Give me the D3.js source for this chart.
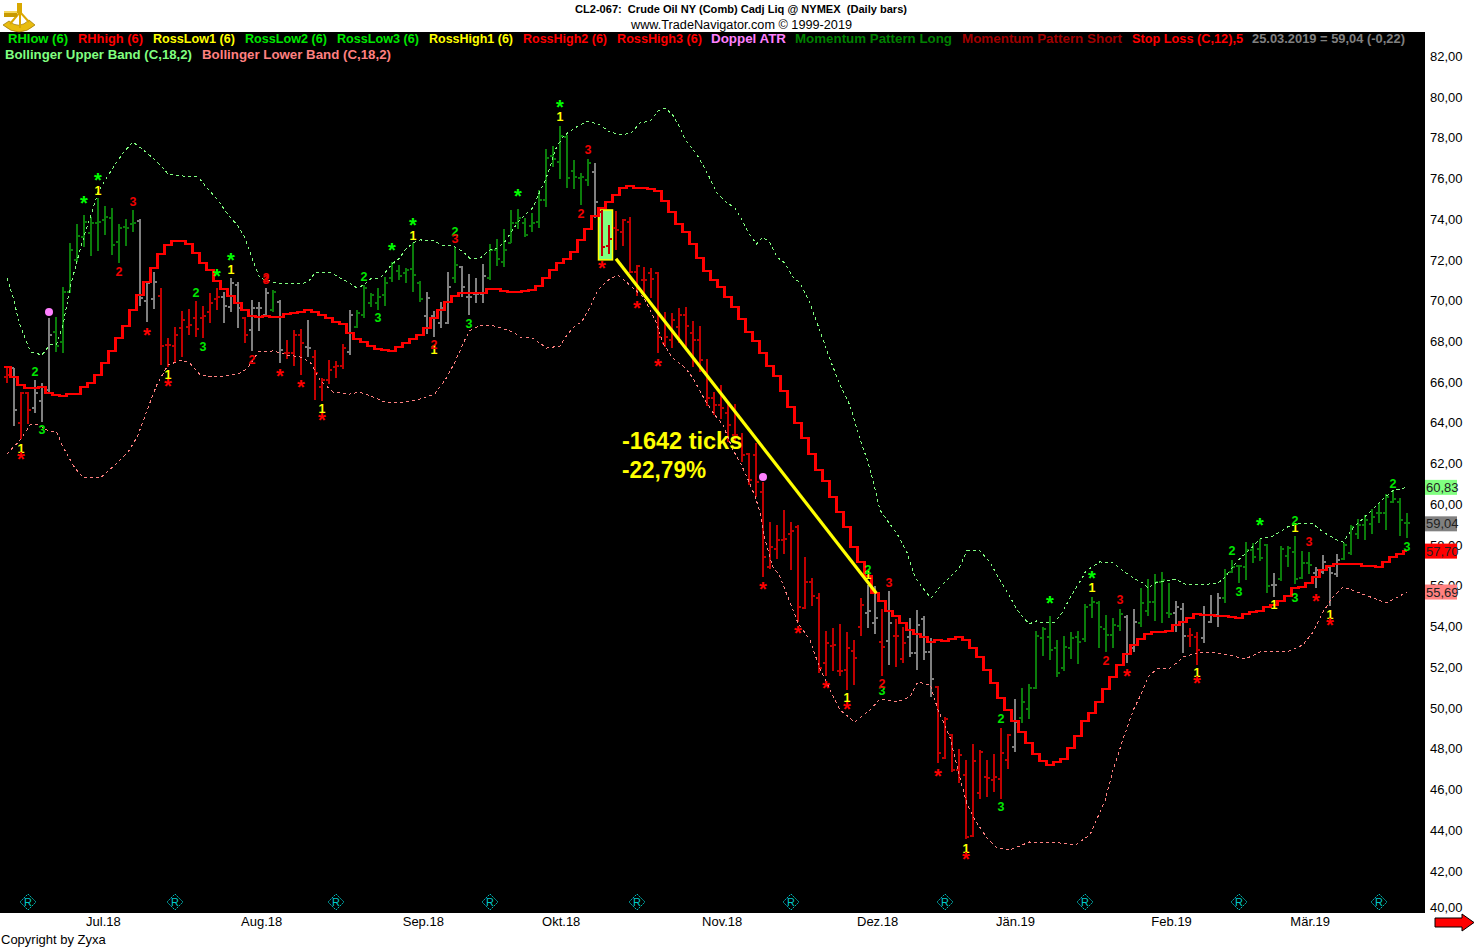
<!DOCTYPE html>
<html>
<head>
<meta charset="utf-8">
<script src="https://cdn.jsdelivr.net/npm/d3@7"></script>
<style>
html,body{margin:0;padding:0;background:#fff;overflow:hidden}
svg{display:block}
text{font-family:"Liberation Sans",Arial,sans-serif}
</style>
</head>
<body>
<svg id="chart" width="1483" height="947"></svg>
<script>
const highs=[66.74,66.69,65.51,65.51,66.10,65.95,69.15,69.20,70.67,72.83,73.76,74.20,74.11,75.04,74.65,74.55,73.76,74.01,74.45,74.01,70.91,71.40,70.62,68.16,68.70,69.49,69.59,69.98,69.74,70.37,70.62,70.42,71.11,70.91,69.20,70.03,69.93,70.62,70.52,70.03,68.07,68.56,68.61,69.05,67.58,66.20,67.08,67.03,67.87,69.54,69.54,70.77,70.37,70.62,71.16,71.90,71.75,71.60,72.83,70.96,70.42,69.49,69.93,71.40,72.63,71.70,71.31,71.11,71.80,72.78,73.02,73.52,74.45,74.50,74.06,74.30,75.43,77.44,77.59,78.57,78.13,76.90,76.27,76.95,76.76,74.45,73.71,74.40,74.01,74.11,71.75,71.65,71.60,71.40,69.44,69.39,69.64,69.69,69.00,68.75,67.13,65.51,65.86,64.97,64.92,63.50,62.52,63.01,61.09,59.13,58.98,59.72,59.13,58.98,57.41,56.38,55.64,53.78,53.93,54.12,53.73,53.34,55.40,56.04,55.99,54.86,55.74,54.37,53.97,54.42,54.81,54.51,53.43,51.08,49.56,48.72,47.98,47.44,48.23,47.93,47.44,47.74,49.02,48.72,50.44,50.98,51.18,53.78,53.97,54.51,53.34,53.53,53.73,53.78,55.10,55.45,55.25,54.56,54.42,54.86,54.56,54.86,55.89,56.33,56.58,56.67,56.13,55.25,55.15,53.93,53.73,55.01,55.55,55.64,56.82,57.26,57.02,58.15,58.10,58.30,58.05,56.63,57.95,57.95,58.44,57.71,57.66,56.92,57.51,57.02,57.56,58.10,58.98,59.28,59.47,59.77,60.06,60.50,60.65,60.31,59.57];
const lows=[65.96,63.84,63.20,63.94,64.48,64.04,65.51,67.48,67.43,70.37,71.90,72.63,72.19,72.44,73.22,72.24,71.85,72.68,73.37,69.74,68.95,69.59,66.84,66.74,66.94,67.23,68.31,68.21,68.16,68.90,69.54,68.90,69.44,68.66,67.92,67.53,68.51,69.29,69.44,66.94,67.13,66.79,66.35,67.23,65.12,65.07,65.91,66.20,66.64,67.33,68.66,69.15,69.69,69.54,69.74,70.91,71.01,70.86,70.42,69.93,68.36,68.21,68.66,68.85,70.86,70.18,69.29,69.88,69.88,71.01,71.70,71.65,72.83,73.52,73.12,73.37,73.57,74.60,76.56,75.97,75.53,75.48,74.70,75.63,74.06,72.19,72.29,72.49,72.68,71.36,70.23,70.37,70.13,67.43,67.72,67.67,67.92,67.72,66.74,66.50,64.83,64.38,64.19,63.06,63.01,62.08,60.95,60.36,56.43,56.82,57.31,57.56,56.77,54.22,54.86,55.01,51.72,51.57,51.81,51.57,50.88,51.13,53.53,53.93,53.63,51.57,52.11,52.01,52.21,52.50,51.86,52.35,50.54,47.30,47.49,46.85,46.32,43.56,43.66,45.53,45.63,45.87,45.53,47.00,47.84,49.26,49.46,50.93,52.55,52.35,51.52,51.81,52.40,52.16,53.24,54.42,52.94,52.75,52.94,53.78,52.21,52.75,53.97,54.51,54.27,54.17,54.42,53.73,52.70,52.99,52.11,53.19,54.17,53.97,55.15,56.63,56.13,56.28,57.12,57.22,55.64,55.45,56.23,56.92,56.09,56.33,56.58,55.89,56.58,55.01,56.43,57.26,57.51,58.30,58.25,58.54,59.08,58.74,60.06,58.44,58.35];
const opens=[66.25,66.69,63.99,65.46,64.73,65.07,65.61,68.46,67.97,70.42,71.99,73.12,73.32,73.81,73.96,74.06,72.88,73.61,73.76,73.91,69.98,70.08,70.23,67.82,67.77,68.66,68.70,69.15,69.15,69.44,70.08,70.18,69.69,70.77,69.15,68.56,69.64,69.29,69.54,69.93,67.43,67.43,68.31,67.72,67.23,65.76,66.10,66.74,66.79,67.48,68.70,69.29,69.88,69.88,70.27,71.11,71.45,71.35,71.55,70.86,69.24,69.25,68.90,68.90,71.11,71.65,70.18,70.32,70.32,71.11,72.49,71.90,72.83,73.81,73.81,73.66,73.86,74.94,77.10,76.81,78.03,76.36,76.02,75.92,76.31,74.35,72.68,73.57,73.37,73.86,71.40,71.01,71.35,71.35,67.92,68.07,68.70,69.29,68.41,68.07,66.50,65.22,64.87,64.48,63.40,63.25,62.47,62.42,60.60,56.92,57.80,58.25,58.54,58.88,54.91,56.18,55.40,52.21,53.04,51.81,51.86,52.80,53.97,54.66,54.17,53.24,53.29,53.53,52.40,53.48,52.70,54.37,52.75,51.03,47.54,48.67,46.95,46.71,43.71,45.82,46.61,46.46,46.51,47.44,48.08,49.51,49.95,50.98,53.43,53.48,52.94,51.96,52.94,53.48,53.38,55.05,55.15,53.88,53.58,54.02,54.46,52.94,54.17,54.76,55.20,56.18,54.66,54.66,54.86,53.53,53.48,53.43,54.22,54.56,55.40,56.67,56.97,56.92,57.75,57.80,58.00,56.04,56.33,57.46,57.66,56.38,57.12,56.63,56.67,56.92,56.58,57.31,57.61,58.54,58.98,59.03,59.57,59.57,60.11,60.11,59.08];
const closes=[66.35,64.63,65.46,64.63,65.46,65.76,68.31,67.77,70.42,72.49,73.17,73.86,73.81,73.86,74.11,72.73,73.57,73.57,73.81,70.13,70.86,70.91,67.77,67.82,68.31,69.05,68.80,68.61,69.25,69.88,70.18,69.74,70.86,69.64,68.31,69.64,69.64,70.37,70.42,67.58,67.43,68.31,67.92,67.67,66.45,66.10,66.59,66.79,67.67,69.29,69.39,70.62,70.27,70.18,70.86,71.85,71.21,71.50,71.26,70.08,70.13,69.15,69.64,70.67,71.75,70.67,70.18,70.32,71.21,72.49,72.04,72.49,73.81,74.06,73.22,73.81,74.94,77.00,76.95,78.08,76.02,76.07,76.07,76.76,74.84,72.63,73.02,73.47,73.96,71.40,71.70,71.01,71.06,68.21,68.21,69.05,69.29,68.75,68.07,67.08,65.22,64.87,64.73,63.89,63.40,62.42,61.19,61.09,57.41,57.90,58.25,58.30,58.69,54.96,56.18,55.50,51.96,53.19,53.09,51.81,52.94,52.45,55.05,54.76,54.42,53.00,54.17,53.53,53.19,52.70,54.07,52.75,51.42,47.79,49.46,46.95,47.69,43.66,47.39,47.84,46.56,46.61,47.79,48.67,49.31,50.29,50.98,53.53,53.88,52.85,51.72,52.99,53.43,53.24,54.96,55.20,53.97,53.58,54.07,54.61,52.65,54.22,55.15,55.20,56.18,56.28,54.61,54.96,53.53,53.58,52.85,54.56,54.56,55.40,56.58,56.92,56.97,57.75,57.41,57.36,55.99,56.04,57.80,57.85,56.33,57.12,57.02,56.77,57.17,56.63,57.26,58.00,58.88,58.98,59.23,59.38,59.57,60.36,60.26,59.23,59.08];
const barStates=("RNRRNNNGGGGGGGGGGGGNNNRRRRRRRRRNNNRNNNGNRRRNRRRRRNGGGGGGGGGGNNNNGNNNNGGGGGGGGGGGGGGGN"+"RRRRRRRRRRRRRRRRRRRRRRRRRRRRRRRRRRRRRR"+"NNRNRRNNNN"+"RRRRRRRRRRRNGGGGGGGGGGGGGGGNNGGGGGNNRRNNNGGGGGGGNGGGGGNNNNGGGGGGGGGG").split("");
const stopLoss=[66.74,66.25,65.86,65.71,65.71,65.76,65.46,65.37,65.32,65.41,65.41,65.76,65.95,66.35,66.94,67.53,68.16,68.75,69.54,70.27,70.91,71.60,72.29,72.73,72.93,72.93,72.78,72.34,71.85,71.50,70.96,70.57,70.23,69.88,69.54,69.25,69.20,69.25,69.20,69.20,69.34,69.39,69.44,69.54,69.44,69.29,69.15,68.95,68.85,68.41,68.11,67.97,67.77,67.62,67.58,67.53,67.72,67.92,68.11,68.31,68.66,69.15,69.54,69.93,70.23,70.37,70.37,70.37,70.37,70.57,70.57,70.47,70.42,70.42,70.47,70.52,70.72,71.11,71.50,71.85,72.04,72.39,72.98,73.52,74.15,74.55,74.84,75.19,75.53,75.63,75.53,75.53,75.48,75.38,74.89,74.35,73.76,73.37,72.78,72.09,71.45,71.01,70.67,70.18,69.69,69.10,68.46,68.02,67.43,66.79,66.30,65.56,64.77,63.99,63.25,62.47,61.68,61.14,60.36,59.62,58.88,57.90,57.17,56.48,55.64,55.25,54.76,54.51,54.17,53.83,53.63,53.48,53.24,53.34,53.29,53.38,53.48,53.34,52.94,52.50,51.86,51.22,50.49,49.90,49.36,48.82,48.28,47.74,47.39,47.20,47.35,47.49,48.03,48.62,49.36,49.75,50.29,50.93,51.52,52.11,52.65,53.09,53.38,53.63,53.73,53.73,53.78,54.07,54.22,54.42,54.61,54.56,54.56,54.51,54.51,54.46,54.42,54.61,54.71,54.76,54.96,55.05,55.25,55.50,55.89,55.94,56.13,56.43,56.77,56.97,57.07,57.07,57.07,57.07,56.97,56.97,56.92,57.17,57.41,57.56,57.70];
const upperBars=[1,2,2.6,3.4,4.4,6,7.1,8.1,9,10,11,12,13.1,14,15.3,16.7,17.6,19,21,22.9,24,26.1,28.3,29.7,31.1,32.4,34,35,36.1,37.1,38.1,40,42.9,44,45,46.1,47.1,48.6,50,51,52,52.9,54.3,55,56,57.1,57.9,59,60,62.1,63.1,64.7,66,67.1,68.6,70,71,72.1,73.9,75,76.1,77.1,77.9,78.6,79.3,80.3,81.1,82.1,84,85.7,87.1,89,90.3,91.4,92.9,94,95.1,96.1,97.1,97.9,99.6,100.4,101.4,102.4,103.9,105,106,106.9,108.1,109,110,111,112.1,113.3,114.3,115.7,117.1,118.6,120,121.4,122.9,123.9,124.7,125.7,126.9,128.1,129.6,130.7,131.7,133,134.3,135.7,137.1,138.1,140,141.4,143.1,144.3,145.3,147,148.1,149,150.7,151.7,153.1,154.6,155.1,156,157.1,159,160.7,162.4,163.3,164,165,166.7,168.1,169,171.4,174,175,176.9,178.9,180,181.9,183.9,185.7,187.6,189,191,191.9,193.3,195.7,197.1,198.9,201];
const upperValues=[71.11,70.03,69.05,68.31,67.48,67.33,67.82,67.87,68.80,70.62,71.94,73.17,74.30,75.33,76.07,76.81,77.25,77.79,77.25,76.66,76.22,76.12,76.07,75.48,74.94,74.30,73.66,73.07,71.99,71.11,71.01,70.82,70.82,70.91,71.36,71.40,71.40,71.11,70.86,70.62,70.77,71.06,71.11,71.36,71.80,72.09,72.49,72.83,72.98,72.93,72.73,72.68,72.44,72.09,72.09,72.49,72.58,72.88,73.81,74.20,74.55,75.33,75.92,76.56,77.39,77.98,78.23,78.48,78.82,78.62,78.28,78.13,78.28,78.72,78.82,79.31,79.46,79.11,78.52,77.89,77.15,76.66,76.02,75.28,74.79,74.55,73.96,73.32,72.78,73.12,72.83,72.14,71.85,71.16,70.86,69.88,68.55,67.09,65.86,64.87,63.16,62.17,61.19,59.72,59.13,58.59,57.61,56.43,55.94,55.40,55.94,56.43,56.92,57.71,57.71,57.17,56.13,55.45,54.81,54.12,54.27,54.17,54.22,54.66,55.55,56.38,56.72,56.92,57.17,57.12,56.67,56.28,56.13,55.89,56.13,56.23,56.33,56.09,56.04,56.13,56.43,57.26,57.90,58.30,58.44,58.88,59.08,59.03,58.64,58.25,58.15,58.84,59.62,60.11,60.65,60.83];
const lowerBars=[1,2.9,4.3,5.4,6.9,8.1,9,10.7,11.9,14.3,16.1,18.3,19.6,21.4,22.4,24,26,27.1,28.6,30.4,32.4,34.3,35.4,36.9,39,41,42.9,44.3,45.7,47.6,50,51.4,52.9,55,57.1,60,62.1,63.6,65,66.4,67.1,68.6,70.7,73.3,74.3,76.1,78.1,80,81,82.1,83.1,84.3,85.4,86.9,88.3,91.9,93.6,94.7,96.1,97.9,99,100.7,101.9,103.3,104.7,105.7,106.7,107.9,108.6,109.3,110.4,111.3,112.6,114,115.7,117.1,118.6,120,122.1,124.3,125.7,128.1,130,131.1,132.9,134,135.7,137.1,138.1,139.3,141,142.4,144.3,147.1,148.6,151.4,153.6,155.7,157.9,159,160.4,161.9,163.1,164,165.3,167.1,168.1,169,171,174,176.1,177.9,180,183.9,186.1,187.6,189,190.4,191.9,193.9,198.1,201];
const lowerValues=[62.47,63.16,63.89,63.94,63.60,63.55,62.81,61.78,61.29,61.29,61.83,62.57,63.30,64.97,65.86,66.84,67.08,66.94,66.35,66.25,66.30,66.45,66.69,67.48,67.53,67.33,67.23,66.99,66.10,65.51,65.41,65.51,65.32,65.02,64.97,65.17,65.41,66.10,66.99,68.07,68.51,68.80,68.75,68.46,68.21,68.16,67.67,67.77,68.31,68.75,68.95,69.69,70.52,71.01,71.26,70.18,69.05,67.92,67.18,66.69,66.20,65.12,64.48,63.89,62.67,62.08,61.34,60.36,59.57,58.25,56.92,56.53,55.40,54.17,53.34,51.96,50.88,49.90,49.31,49.90,50.44,50.29,50.54,51.27,51.13,49.90,48.57,46.61,45.33,44.50,43.61,43.12,43.03,43.42,43.37,43.37,43.27,43.76,45.48,46.95,48.43,49.90,50.73,51.52,51.91,51.96,52.21,52.50,52.70,52.70,52.55,52.40,52.75,52.75,53.09,53.73,54.71,55.45,55.94,55.69,55.15,55.69];
const greenStarBars=[12,14,31,33,56,59,74,80,150,156,180];
const greenStarValues=[74.99,76.12,71.40,72.19,72.68,73.91,75.33,79.70,55.35,56.58,59.18];
const redStarBars=[3,21,24,40,43,46,86,91,94,109,114,118,121,134,138,161,171,188,190];
const redStarValues=[62.42,68.51,66.00,66.49,65.95,64.33,71.80,69.83,66.99,56.04,53.88,51.18,50.14,46.85,42.78,51.76,51.42,55.45,54.27];
const yellowOneBars=[3,24,33,46,14,59,80,121,138,156,171,182,185,190,62,124];
const yellowOneValues=[62.76,66.35,71.55,64.68,75.43,73.22,79.02,50.49,43.12,55.89,51.72,55.10,58.84,54.61,67.62,56.53];
const greenTwoBars=[5,28,52,65,124,143,176,185,199];
const greenTwoValues=[66.54,70.42,71.16,73.37,56.82,49.46,57.71,59.18,61.04];
const greenThreeBars=[6,29,54,67,126,143,177,185,201];
const greenThreeValues=[63.65,67.77,69.15,68.90,50.88,45.14,55.74,55.40,57.95];
const redTwoBars=[17,36,38,83,62,126,158];
const redTwoValues=[71.45,67.13,71.11,74.30,67.82,51.22,52.35];
const redThreeBars=[19,38,65,84,127,160,187];
const redThreeValues=[74.89,71.06,73.03,77.40,56.18,55.30,58.15];
const atrBars=[7,109];
const atrValues=[69.44,61.34];
const reportBars=[4,25,48,70,91,113,135,155,177,197];
const monthBars=[14.7,37.3,60.4,80.1,103.1,125.3,145,167.3,187.1];
const monthLabels=["Jul.18","Aug.18","Sep.18","Okt.18","Nov.18","Dez.18","Jän.19","Feb.19","Mär.19"];
const priceTicks=[82,80,78,76,74,72,70,68,66,64,62,60,58,56,54,52,50,48,46,44,42,40];
const trendBars=[88,125.2];
const trendValues=[72.05,55.63];
const boxBars=[85.5,87.5];
const boxValues=[74.45,72.0];
const tagValues=[60.83,59.04,57.70,55.69];
const tagColors=["#80ff80","#808080","#ff0000","#ff8080"];
const legendRow1=["RHlow (6)","RHhigh (6)","RossLow1 (6)","RossLow2 (6)","RossLow3 (6)","RossHigh1 (6)","RossHigh2 (6)","RossHigh3 (6)","Doppel ATR","Momentum Pattern Long","Momentum Pattern Short","Stop Loss (C,12),5","25.03.2019 = 59,04 (-0,22)"];
const legendRow1Color=["#00e600","#ff0000","#ffff00","#00e600","#00e600","#ffff00","#ff0000","#ff0000","#ff80ff","#008000","#a00000","#ff0000","#808080"];
const legendRow1Start=[8,78,153,245,337,429,523,617,711,795,962,1132,1252];
const legendRow1End=[68,143,235,327,419,513,607,702,786,952,1122,1243,1405];
const legendRow2=["Bollinger Upper Band (C,18,2)","Bollinger Lower Band (C,18,2)"];
const legendRow2Color=["#80ff80","#ff8080"];
const legendRow2Start=[5,202];
const legendRow2End=[192,391];

const W=1483,H=947,plotR=1425,plotT=32,plotB=913;
const svg=d3.select("#chart");
const x=d3.scaleLinear().domain([0,201]).range([0,1407]);
const y=d3.scaleLinear().domain([82,40]).range([56.2,911.6]);
const fmt=v=>d3.format(".2f")(v).replace(".",",");

svg.append("rect").attr("width",W).attr("height",H).attr("fill","#fff");
svg.append("rect").attr("x",0).attr("y",plotT).attr("width",plotR).attr("height",plotB-plotT).attr("fill","#000");
svg.append("defs").append("clipPath").attr("id","plotClip").append("rect").attr("x",0).attr("y",plotT).attr("width",plotR).attr("height",plotB-plotT);

// logo
const logo=svg.append("g");
logo.append("path").attr("d","M3 25 Q19 39 35 25 L29 20 Q19 30 9 21 Z").attr("fill","#e8bc10").attr("stroke","#9a7400").attr("stroke-width",0.7);
logo.append("path").attr("d","M20 12 L10 24 M20 12 L29 22 M20 12 L20 28").attr("stroke","#dca800").attr("stroke-width",2).attr("fill","none");
logo.append("rect").attr("x",17).attr("y",3).attr("width",5).attr("height",10).attr("fill","#d8a800");
logo.append("rect").attr("x",4).attr("y",11).attr("width",13).attr("height",6).attr("fill","#c89a00");
logo.append("rect").attr("x",4).attr("y",11).attr("width",13).attr("height",2).attr("fill","#f5d75a");

// header
svg.append("text").attr("x",575).attr("y",13).attr("font-size",11).attr("font-weight","bold").attr("fill","#000").attr("textLength",332).attr("lengthAdjust","spacingAndGlyphs").attr("xml:space","preserve").text("CL2-067:  Crude Oil NY (Comb) Cadj Liq @ NYMEX  (Daily bars)");
svg.append("text").attr("x",631).attr("y",29).attr("font-size",12.5).attr("fill","#000").attr("textLength",221).attr("lengthAdjust","spacingAndGlyphs").text("www.TradeNavigator.com © 1999-2019");
svg.append("text").attr("x",1).attr("y",944).attr("font-size",13).attr("fill","#000").text("Copyright by Zyxa");

// axes
const yAxis=svg.append("g").attr("transform",`translate(${plotR},0)`).call(d3.axisRight(y).tickValues(priceTicks).tickSize(0).tickPadding(5).tickFormat(fmt));
yAxis.select(".domain").remove();
yAxis.selectAll("text").attr("font-size",13).attr("fill","#000").style("font-family",'"Liberation Sans",Arial,sans-serif');
yAxis.selectAll(".tick").filter(d=>d===40).select("text").attr("transform","translate(0,-4.5)");
const xAxis=svg.append("g").attr("transform",`translate(0,${plotB})`).call(d3.axisBottom(x).tickValues(monthBars).tickSize(0).tickPadding(4).tickFormat((d,i)=>monthLabels[i]));
xAxis.select(".domain").remove();
xAxis.selectAll("text").attr("font-size",13).attr("fill","#000").style("font-family",'"Liberation Sans",Arial,sans-serif');

const plot=svg.append("g").attr("clip-path","url(#plotClip)");

// highlight box
plot.append("rect").attr("x",x(boxBars[0])).attr("y",y(boxValues[0])).attr("width",x(boxBars[1])-x(boxBars[0])).attr("height",y(boxValues[1])-y(boxValues[0])).attr("fill","#80ff80").attr("stroke","#ffff00").attr("stroke-width",1.5);

// report diamonds
const rep=plot.append("g").selectAll("g").data(reportBars).join("g").attr("transform",d=>`translate(${x(d)},902)`);
rep.append("path").attr("d","M0 -8L8 0L0 8L-8 0Z").attr("fill","none").attr("stroke","#00b8b8").attr("stroke-width",1).attr("stroke-dasharray","2,1");
rep.append("text").attr("text-anchor","middle").attr("y",4).attr("font-size",11).attr("fill","#00c8c8").text("R");

// bars
const barColor={G:"#0b7d0b",R:"#c00000",N:"#808080"};
const bars=plot.append("g").attr("shape-rendering","crispEdges").selectAll("g").data(highs.map((h,i)=>i)).join("g").attr("stroke",i=>barColor[barStates[i]]).attr("stroke-width",2);
bars.append("line").attr("x1",i=>x(i+1)).attr("x2",i=>x(i+1)).attr("y1",i=>y(highs[i])).attr("y2",i=>y(lows[i]));
bars.append("line").attr("x1",i=>x(i+1)-3).attr("x2",i=>x(i+1)).attr("y1",i=>y(opens[i])).attr("y2",i=>y(opens[i]));
bars.append("line").attr("x1",i=>x(i+1)).attr("x2",i=>x(i+1)+3).attr("y1",i=>y(closes[i])).attr("y2",i=>y(closes[i]));

// bollinger bands
const bandLine=d3.line().x(d=>x(d[0])).y(d=>y(d[1]));
plot.append("path").attr("d",bandLine(d3.zip(upperBars,upperValues))).attr("fill","none").attr("stroke","#80ff80").attr("stroke-width",1).attr("stroke-dasharray","3,3").attr("shape-rendering","crispEdges");
plot.append("path").attr("d",bandLine(d3.zip(lowerBars,lowerValues))).attr("fill","none").attr("stroke","#ff8080").attr("stroke-width",1).attr("stroke-dasharray","3,3").attr("shape-rendering","crispEdges");

// stop loss
const stopLine=d3.line().curve(d3.curveStep).x(d=>x(d[0])).y(d=>y(d[1]));
const stopPts=[[0.5,stopLoss[0]]].concat(stopLoss.map((v,i)=>[i+1,v]));
plot.append("path").attr("d",stopLine(stopPts)).attr("fill","none").attr("stroke","#ff0000").attr("stroke-width",2.6).attr("shape-rendering","crispEdges");

// markers
function marks(bs,vs,glyph,color,size,dy){
  plot.append("g").selectAll("text").data(bs).join("text")
    .attr("x",d=>x(d)).attr("y",(d,i)=>y(vs[i])+dy)
    .attr("text-anchor","middle").attr("font-size",size).attr("font-weight","bold").attr("fill",color).text(glyph);
}
marks(yellowOneBars,yellowOneValues,"1","#ffff00",12.5,4.5);
marks(greenTwoBars,greenTwoValues,"2","#00e600",12.5,4.5);
marks(greenThreeBars,greenThreeValues,"3","#00e600",12.5,4.5);
marks(redTwoBars,redTwoValues,"2","#f00000",12.5,4.5);
marks(redThreeBars,redThreeValues,"3","#f00000",12.5,4.5);
marks(greenStarBars,greenStarValues,"*","#00ff00",20,10.7);
marks(redStarBars,redStarValues,"*","#ff0000",20,10.7);

plot.append("g").selectAll("circle").data(atrBars).join("circle").attr("cx",d=>x(d)).attr("cy",(d,i)=>y(atrValues[i])).attr("r",4).attr("fill","#ff80ff");

// trend line
plot.append("line").attr("x1",x(trendBars[0])).attr("y1",y(trendValues[0])).attr("x2",x(trendBars[1])).attr("y2",y(trendValues[1])).attr("stroke","#ffff00").attr("stroke-width",3.2);
plot.append("text").attr("x",622).attr("y",449).attr("font-size",23.5).attr("font-weight","bold").attr("fill","#ffff00").text("-1642 ticks");
plot.append("text").attr("x",622).attr("y",478).attr("font-size",23.5).attr("font-weight","bold").attr("fill","#ffff00").attr("textLength",84).attr("lengthAdjust","spacingAndGlyphs").text("-22,79%");

// legends
function legend(labels,colors,starts,ends,baseline){
  labels.forEach((t,i)=>svg.append("text").attr("x",starts[i]).attr("y",baseline).attr("font-size",13).attr("font-weight","bold").attr("fill",colors[i]).attr("textLength",ends[i]-starts[i]).attr("lengthAdjust","spacingAndGlyphs").text(t));
}
legend(legendRow1,legendRow1Color,legendRow1Start,legendRow1End,43);
legend(legendRow2,legendRow2Color,legendRow2Start,legendRow2End,59);

// price tags
const tags=svg.append("g").selectAll("g").data(tagValues).join("g");
tags.append("rect").attr("x",plotR).attr("y",d=>y(d)-7.5).attr("width",32).attr("height",15).attr("fill",(d,i)=>tagColors[i]);
tags.append("text").attr("x",plotR+1).attr("y",d=>y(d)+4.5).attr("font-size",13).attr("fill","#222").text(fmt);

// scroll arrow
svg.append("path").attr("d","M1435 918H1462V914L1474 922.5L1462 931V927H1435Z").attr("fill","#ff0000").attr("stroke","#000").attr("stroke-width",1);
</script>
</body>
</html>
